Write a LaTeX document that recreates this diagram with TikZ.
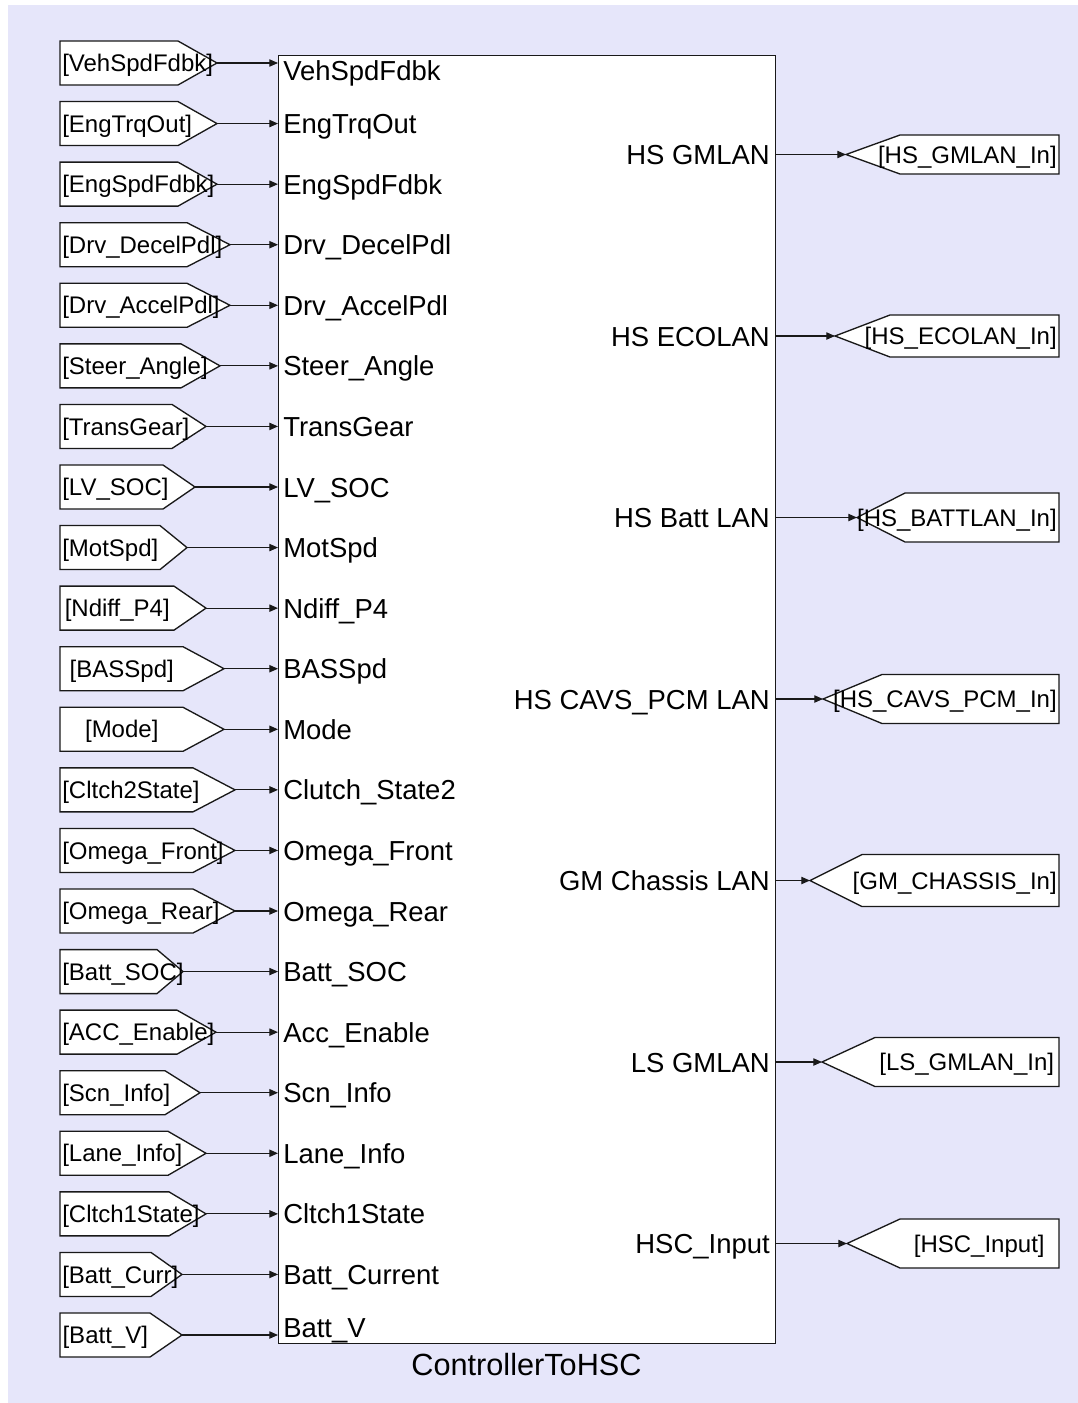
\documentclass[tikz,border=0pt]{standalone}
\usepackage{fontspec}
\setmainfont{Liberation Sans}
\usetikzlibrary{arrows.meta}

\definecolor{canvas}{RGB}{230,230,250}
\definecolor{ink}{RGB}{25,25,25}

\tikzset{
  tagshape/.style={draw=ink, fill=white, line width=1pt, line join=miter},
  sig/.style={draw=ink, line width=0.8pt, -{Triangle[length=6.5pt,width=5.5pt]}},
  tagtext/.style={font=\fontsize{18}{18}\selectfont, inner sep=0pt},
  portlbl/.style={font=\fontsize{20.6}{20.6}\selectfont, inner sep=0pt},
  blockbox/.style={draw=ink, fill=white, line width=1pt, inner sep=0pt},
}

\begin{document}
\begin{tikzpicture}[x=0.75pt,y=-0.75pt]
  % canvas
  \fill[white] (0,0) rectangle (1078,1403);
  \fill[canvas] (8,5) rectangle (1078,1403);
  \useasboundingbox (0,0) rectangle (1078,1403);

  % subsystem block
  \node[blockbox, anchor=north west, minimum width=372.75pt, minimum height=966pt] (blk) at (278,55) {};
  \node[font=\fontsize{23}{23}\selectfont, anchor=base, inner sep=0pt] (title) at (526.5,1375) {ControllerToHSC};

  % From tags feeding the inputs
  \foreach \s/\a/\t/\l [count=\i from 0] in {
      178/217/{[VehSpdFdbk]}/{VehSpdFdbk},
      178/217/{[EngTrqOut]}/{EngTrqOut},
      178/217/{[EngSpdFdbk]}/{EngSpdFdbk},
      187/230/{[Drv\_DecelPdl]}/{Drv\_DecelPdl},
      187/230/{[Drv\_AccelPdl]}/{Drv\_AccelPdl},
      181/220/{[Steer\_Angle]}/{Steer\_Angle},
      172/206/{[TransGear]}/{TransGear},
      163/195/{[LV\_SOC]}/{LV\_SOC},
      160/187/{[MotSpd]}/{MotSpd},
      174/206/{[Ndiff\_P4]}/{Ndiff\_P4},
      183/224/{[BASSpd]}/{BASSpd},
      183/224/{[Mode]}/{Mode},
      193/235/{[Cltch2State]}/{Clutch\_State2},
      193/235/{[Omega\_Front]}/{Omega\_Front},
      193/235/{[Omega\_Rear]}/{Omega\_Rear},
      157/183/{[Batt\_SOC]}/{Batt\_SOC},
      177/216/{[ACC\_Enable]}/{Acc\_Enable},
      165/200/{[Scn\_Info]}/{Scn\_Info},
      168/206/{[Lane\_Info]}/{Lane\_Info},
      169/206/{[Cltch1State]}/{Cltch1State},
      151/182/{[Batt\_Curr]}/{Batt\_Current},
      150/182/{[Batt\_V]}/{Batt\_V}} {
    \pgfmathsetmacro\yy{63+\i*60.5714}
    \pgfmathsetlengthmacro\tw{(\s-64)*0.75}
    \pgfmathsetmacro\ly{\yy+10+(\i==0)*7-(\i==21)*8}
    \draw[tagshape] (60,\yy-22) -- (\s,\yy-22) -- (\a,\yy) -- (\s,\yy+22) -- (60,\yy+22) -- cycle;
    \coordinate (in\i) at (\a,\yy);
    \node[tagtext, anchor=base west] (tin\i) at (62,\yy+8.6)
      {\hbox to \tw{\hskip 0pt plus 1fil\relax\t\hskip 0pt plus 1fil minus 1000pt\relax}};
    \draw[sig] (in\i) -- (in\i -| blk.west);
    \node[portlbl, anchor=base west] (pin\i) at (283,\ly) {\l};
  }

  % Goto tags fed by the outputs
  \foreach \a/\s/\h/\t/\l [count=\k from 0] in {
      846/900/19.5/{[HS\_GMLAN\_In]}/{HS GMLAN},
      835/890/21/{[HS\_ECOLAN\_In]}/{HS ECOLAN},
      857/905/24.5/{[HS\_BATTLAN\_In]}/{HS Batt LAN},
      823/882/24.5/{[HS\_CAVS\_PCM\_In]}/{HS CAVS\_PCM LAN},
      810/862/26/{[GM\_CHASSIS\_In]}/{GM Chassis LAN},
      822/875/24.5/{[LS\_GMLAN\_In]}/{LS GMLAN},
      847/900/24.5/{[HSC\_Input]}/{HSC\_Input}} {
    \pgfmathsetmacro\yy{154.5+\k*181.5}
    \pgfmathsetlengthmacro\tw{(1059-\s-4)*0.75}
    \draw[tagshape] (1059,\yy-\h) -- (\s,\yy-\h) -- (\a,\yy) -- (\s,\yy+\h) -- (1059,\yy+\h) -- cycle;
    \coordinate (out\k) at (\a,\yy);
    \node[tagtext, anchor=base east] (tout\k) at (1057,\yy+8.6)
      {\hbox to \tw{\hskip 0pt plus 1fil minus 1000pt\relax\t\hskip 0pt plus 1fil\relax}};
    \draw[sig] (out\k -| blk.east) -- (out\k);
    \node[portlbl, anchor=base east] (pout\k) at (770,\yy+10) {\l};
  }
\end{tikzpicture}
\end{document}
